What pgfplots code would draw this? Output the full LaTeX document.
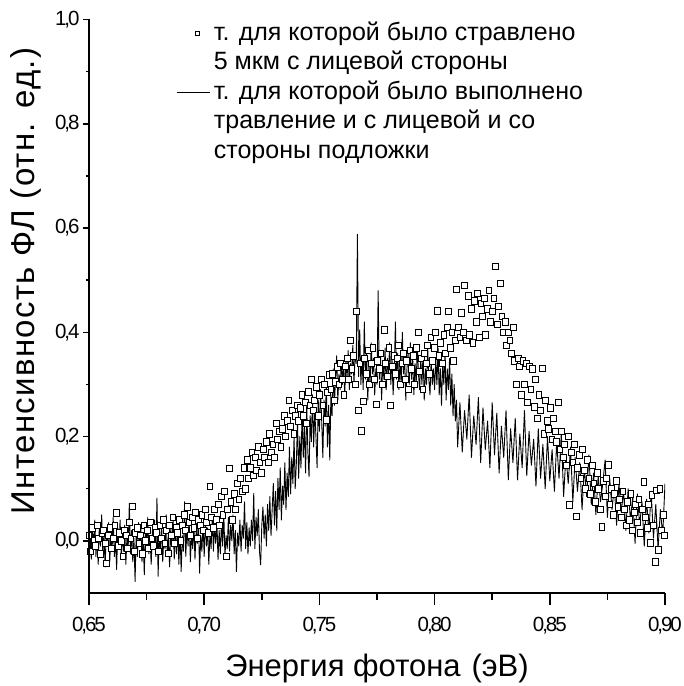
\documentclass[border=0pt]{standalone}
\usepackage{pgfplots}
\usepackage{pgfplotstable}
\pgfplotsset{compat=1.18}
\usepackage{fontspec}
\setmainfont{Liberation Sans}
\newfontfamily\tickfont[LetterSpace=-10]{Liberation Sans}
\newfontfamily\ylabfont[LetterSpace=4]{Liberation Sans}

\pgfplotsset{
  sqlegend/.style={legend image code/.code={%
    \path[draw=none] (0pt,0pt) -- (33pt,0pt);
    \draw[##1, mark size=1.8pt] plot coordinates {(20pt,0pt)};}},
  linelegend/.style={legend image code/.code={\draw[##1] (0pt,0pt) -- (33pt,0pt);}},
  nolegend/.style={legend image code/.code={\path[draw=none] (0pt,0pt) -- (33pt,0pt);}},
  frame/.style={scale only axis, width=576pt, height=573.5pt,
    at={(0pt,0pt)}, anchor=south west,
    xmin=0.65, xmax=0.90, ymin=-0.1, ymax=1.0,
    axis line style={line width=1.5pt, -},
    every tick/.style={black, line width=1.5pt},
    tick align=outside,
    /pgf/number format/assume math mode=true,
    scaled ticks=false},
}

% PL spectrum, front side etched by 5 um (open squares)
\pgfplotstableread[row sep=\\]{
x y\\
0.6500 0.010\\ 0.6507 -0.020\\ 0.6514 0.025\\ 0.6521 0.000\\ 0.6528 -0.010\\ 0.6535 0.030\\ 0.6542 0.005\\ 0.6549 -0.025\\ 0.6556 0.015\\ 0.6563 0.020\\
0.6570 -0.005\\ 0.6577 -0.043\\ 0.6584 0.010\\ 0.6591 0.025\\ 0.6598 -0.015\\ 0.6605 0.005\\ 0.6612 0.030\\ 0.6619 0.054\\ 0.6626 -0.010\\ 0.6633 0.015\\
0.6640 0.000\\ 0.6647 -0.030\\ 0.6654 0.020\\ 0.6661 0.010\\ 0.6668 -0.015\\ 0.6675 0.035\\ 0.6682 0.005\\ 0.6689 0.066\\ 0.6696 -0.020\\ 0.6703 0.015\\
0.6710 0.025\\ 0.6717 -0.005\\ 0.6724 0.010\\ 0.6731 -0.025\\ 0.6738 0.030\\ 0.6745 0.000\\ 0.6752 0.020\\ 0.6759 -0.015\\ 0.6766 0.035\\ 0.6773 0.005\\
0.6780 -0.010\\ 0.6787 0.025\\ 0.6794 0.015\\ 0.6801 -0.020\\ 0.6808 0.030\\ 0.6815 0.005\\ 0.6822 0.040\\ 0.6829 -0.005\\ 0.6836 0.020\\ 0.6843 -0.024\\
0.6850 0.030\\ 0.6857 0.010\\ 0.6864 0.045\\ 0.6871 -0.005\\ 0.6878 0.025\\ 0.6885 0.015\\ 0.6892 0.040\\ 0.6899 0.000\\ 0.6906 0.030\\ 0.6913 0.050\\
0.6920 0.020\\ 0.6927 0.065\\ 0.6934 0.035\\ 0.6941 0.010\\ 0.6948 0.045\\ 0.6955 0.025\\ 0.6962 0.055\\ 0.6969 0.005\\ 0.6976 0.040\\ 0.6983 0.030\\
0.6990 0.050\\ 0.6997 0.020\\ 0.7004 0.060\\ 0.7011 0.035\\ 0.7018 0.015\\ 0.7025 0.104\\ 0.7032 0.045\\ 0.7039 0.025\\ 0.7046 0.060\\ 0.7053 0.040\\
0.7060 0.070\\ 0.7067 0.030\\ 0.7074 0.085\\ 0.7081 0.050\\ 0.7088 0.095\\ 0.7095 -0.030\\ 0.7102 0.060\\ 0.7109 0.139\\ 0.7116 0.075\\ 0.7123 0.040\\
0.7130 0.090\\ 0.7137 0.060\\ 0.7144 0.110\\ 0.7151 0.080\\ 0.7158 0.120\\ 0.7165 0.095\\ 0.7172 0.140\\ 0.7179 0.100\\ 0.7186 0.155\\ 0.7193 0.120\\
0.7200 0.140\\ 0.7207 0.170\\ 0.7214 0.125\\ 0.7221 0.160\\ 0.7228 0.135\\ 0.7235 0.180\\ 0.7242 0.150\\ 0.7249 0.130\\ 0.7256 0.175\\ 0.7263 0.160\\
0.7270 0.190\\ 0.7277 0.150\\ 0.7284 0.205\\ 0.7291 0.170\\ 0.7298 0.185\\ 0.7305 0.160\\ 0.7312 0.225\\ 0.7319 0.195\\ 0.7326 0.210\\ 0.7333 0.180\\
0.7340 0.215\\ 0.7347 0.240\\ 0.7354 0.200\\ 0.7361 0.230\\ 0.7368 0.270\\ 0.7375 0.220\\ 0.7382 0.250\\ 0.7389 0.205\\ 0.7396 0.240\\ 0.7403 0.260\\
0.7410 0.230\\ 0.7417 0.255\\ 0.7424 0.280\\ 0.7431 0.240\\ 0.7438 0.265\\ 0.7445 0.225\\ 0.7452 0.286\\ 0.7459 0.260\\ 0.7466 0.310\\ 0.7473 0.250\\
0.7480 0.270\\ 0.7487 0.295\\ 0.7494 0.240\\ 0.7501 0.280\\ 0.7508 0.310\\ 0.7515 0.260\\ 0.7522 0.300\\ 0.7529 0.232\\ 0.7536 0.285\\ 0.7543 0.318\\
0.7550 0.290\\ 0.7557 0.320\\ 0.7564 0.270\\ 0.7571 0.305\\ 0.7578 0.334\\ 0.7585 0.300\\ 0.7592 0.340\\ 0.7599 0.310\\ 0.7606 0.280\\ 0.7613 0.335\\
0.7620 0.350\\ 0.7627 0.310\\ 0.7634 0.384\\ 0.7641 0.330\\ 0.7648 0.355\\ 0.7655 0.300\\ 0.7662 0.440\\ 0.7669 0.250\\ 0.7676 0.340\\ 0.7683 0.211\\
0.7690 0.267\\ 0.7697 0.350\\ 0.7704 0.320\\ 0.7711 0.365\\ 0.7718 0.300\\ 0.7725 0.340\\ 0.7732 0.370\\ 0.7739 0.310\\ 0.7746 0.262\\ 0.7753 0.345\\
0.7760 0.330\\ 0.7767 0.360\\ 0.7774 0.300\\ 0.7781 0.405\\ 0.7788 0.340\\ 0.7795 0.315\\ 0.7802 0.370\\ 0.7809 0.260\\ 0.7816 0.335\\ 0.7823 0.355\\
0.7830 0.320\\ 0.7837 0.350\\ 0.7844 0.375\\ 0.7851 0.300\\ 0.7858 0.340\\ 0.7865 0.360\\ 0.7872 0.310\\ 0.7879 0.345\\ 0.7886 0.290\\ 0.7893 0.365\\
0.7900 0.330\\ 0.7907 0.355\\ 0.7914 0.300\\ 0.7921 0.370\\ 0.7928 0.400\\ 0.7935 0.325\\ 0.7942 0.350\\ 0.7949 0.290\\ 0.7956 0.360\\ 0.7963 0.340\\
0.7970 0.375\\ 0.7977 0.320\\ 0.7984 0.390\\ 0.7991 0.345\\ 0.7998 0.370\\ 0.8005 0.400\\ 0.8012 0.441\\ 0.8019 0.355\\ 0.8026 0.380\\ 0.8033 0.340\\
0.8040 0.395\\ 0.8047 0.360\\ 0.8054 0.410\\ 0.8061 0.440\\ 0.8068 0.370\\ 0.8075 0.400\\ 0.8082 0.345\\ 0.8089 0.385\\ 0.8096 0.482\\ 0.8103 0.410\\
0.8110 0.390\\ 0.8117 0.437\\ 0.8124 0.400\\ 0.8131 0.490\\ 0.8138 0.385\\ 0.8145 0.470\\ 0.8152 0.395\\ 0.8159 0.445\\ 0.8166 0.380\\ 0.8173 0.460\\
0.8180 0.420\\ 0.8187 0.475\\ 0.8194 0.390\\ 0.8201 0.455\\ 0.8208 0.430\\ 0.8215 0.465\\ 0.8222 0.395\\ 0.8229 0.445\\ 0.8236 0.480\\ 0.8243 0.420\\
0.8250 0.440\\ 0.8257 0.465\\ 0.8264 0.527\\ 0.8271 0.415\\ 0.8278 0.450\\ 0.8285 0.494\\ 0.8292 0.430\\ 0.8299 0.400\\ 0.8306 0.420\\ 0.8313 0.375\\
0.8320 0.400\\ 0.8327 0.385\\ 0.8334 0.360\\ 0.8341 0.410\\ 0.8348 0.345\\ 0.8355 0.300\\ 0.8362 0.350\\ 0.8369 0.335\\ 0.8376 0.280\\ 0.8383 0.345\\
0.8390 0.300\\ 0.8397 0.340\\ 0.8404 0.265\\ 0.8411 0.335\\ 0.8418 0.290\\ 0.8425 0.330\\ 0.8432 0.257\\ 0.8439 0.310\\ 0.8446 0.235\\ 0.8453 0.280\\
0.8460 0.250\\ 0.8467 0.331\\ 0.8474 0.205\\ 0.8481 0.270\\ 0.8488 0.230\\ 0.8495 0.215\\ 0.8502 0.255\\ 0.8509 0.195\\ 0.8516 0.235\\ 0.8523 0.210\\
0.8530 0.190\\ 0.8537 0.266\\ 0.8544 0.175\\ 0.8551 0.210\\ 0.8558 0.160\\ 0.8565 0.185\\ 0.8572 0.145\\ 0.8579 0.200\\ 0.8586 0.069\\ 0.8593 0.170\\
0.8600 0.150\\ 0.8607 0.185\\ 0.8614 0.047\\ 0.8621 0.140\\ 0.8628 0.165\\ 0.8635 0.120\\ 0.8642 0.175\\ 0.8649 0.135\\ 0.8656 0.100\\ 0.8663 0.155\\
0.8670 0.120\\ 0.8677 0.090\\ 0.8684 0.145\\ 0.8691 0.110\\ 0.8698 0.075\\ 0.8705 0.130\\ 0.8712 0.100\\ 0.8719 0.060\\ 0.8726 0.027\\ 0.8733 0.115\\
0.8740 0.085\\ 0.8747 0.120\\ 0.8754 0.146\\ 0.8761 0.070\\ 0.8768 0.100\\ 0.8775 0.050\\ 0.8782 0.090\\ 0.8789 0.115\\ 0.8796 0.065\\ 0.8803 0.080\\
0.8810 0.045\\ 0.8817 0.095\\ 0.8824 0.060\\ 0.8831 0.030\\ 0.8838 0.075\\ 0.8845 0.040\\ 0.8852 0.090\\ 0.8859 0.020\\ 0.8866 0.055\\ 0.8873 0.070\\
0.8880 0.035\\ 0.8887 0.080\\ 0.8894 0.015\\ 0.8901 0.060\\ 0.8908 0.113\\ 0.8915 0.045\\ 0.8922 0.025\\ 0.8929 0.070\\ 0.8936 -0.004\\ 0.8943 0.088\\
0.8950 0.030\\ 0.8957 -0.040\\ 0.8964 0.097\\ 0.8971 -0.017\\ 0.8978 0.100\\ 0.8985 0.020\\ 0.8992 0.050\\ 0.8999 0.010\\
}\frontdata

% PL spectrum, etched from the front and from the substrate side (solid line)
\pgfplotstableread[row sep=\\]{
x y\\
0.6500 -0.060\\ 0.6505 0.010\\ 0.6510 -0.035\\ 0.6515 0.025\\ 0.6520 -0.015\\ 0.6525 0.040\\ 0.6530 -0.030\\ 0.6535 0.005\\ 0.6540 -0.045\\ 0.6545 0.030\\
0.6550 -0.010\\ 0.6555 0.050\\ 0.6560 -0.025\\ 0.6565 0.015\\ 0.6570 -0.050\\ 0.6575 0.020\\ 0.6580 -0.005\\ 0.6585 0.035\\ 0.6590 -0.040\\ 0.6595 0.010\\
0.6600 -0.020\\ 0.6605 0.045\\ 0.6610 -0.030\\ 0.6615 0.000\\ 0.6620 -0.055\\ 0.6625 0.025\\ 0.6630 -0.010\\ 0.6635 0.040\\ 0.6640 -0.035\\ 0.6645 0.015\\
0.6650 -0.020\\ 0.6655 0.030\\ 0.6660 -0.045\\ 0.6665 0.010\\ 0.6670 -0.015\\ 0.6675 0.072\\ 0.6680 -0.025\\ 0.6685 0.020\\ 0.6690 -0.040\\ 0.6695 0.005\\
0.6700 -0.078\\ 0.6705 0.015\\ 0.6710 -0.030\\ 0.6715 0.035\\ 0.6720 -0.010\\ 0.6725 0.025\\ 0.6730 -0.040\\ 0.6735 0.010\\ 0.6740 -0.065\\ 0.6745 0.030\\
0.6750 -0.015\\ 0.6755 0.045\\ 0.6760 -0.025\\ 0.6765 0.005\\ 0.6770 -0.045\\ 0.6775 0.020\\ 0.6780 -0.010\\ 0.6785 0.040\\ 0.6790 -0.030\\ 0.6795 0.082\\
0.6800 -0.068\\ 0.6805 0.020\\ 0.6810 -0.020\\ 0.6815 0.035\\ 0.6820 -0.040\\ 0.6825 0.010\\ 0.6830 -0.015\\ 0.6835 0.050\\ 0.6840 -0.030\\ 0.6845 0.005\\
0.6850 -0.050\\ 0.6855 0.025\\ 0.6860 -0.010\\ 0.6865 0.040\\ 0.6870 -0.035\\ 0.6875 0.015\\ 0.6880 -0.025\\ 0.6885 0.030\\ 0.6890 -0.045\\ 0.6895 0.020\\
0.6900 -0.059\\ 0.6905 0.010\\ 0.6910 -0.020\\ 0.6915 0.075\\ 0.6920 -0.030\\ 0.6925 0.025\\ 0.6930 -0.010\\ 0.6935 0.040\\ 0.6940 -0.040\\ 0.6945 0.015\\
0.6950 -0.015\\ 0.6955 0.030\\ 0.6960 -0.035\\ 0.6965 0.020\\ 0.6970 -0.005\\ 0.6975 0.045\\ 0.6980 -0.062\\ 0.6985 0.010\\ 0.6990 -0.020\\ 0.6995 0.035\\
0.7000 -0.030\\ 0.7005 0.040\\ 0.7010 -0.010\\ 0.7015 0.025\\ 0.7020 -0.045\\ 0.7025 0.015\\ 0.7030 -0.015\\ 0.7035 0.050\\ 0.7040 -0.020\\ 0.7045 0.030\\
0.7050 -0.005\\ 0.7055 0.040\\ 0.7060 -0.036\\ 0.7065 0.020\\ 0.7070 -0.025\\ 0.7075 0.035\\ 0.7080 -0.010\\ 0.7085 0.055\\ 0.7090 -0.030\\ 0.7095 0.010\\
0.7100 -0.015\\ 0.7105 0.045\\ 0.7110 -0.020\\ 0.7115 0.030\\ 0.7120 0.000\\ 0.7125 0.050\\ 0.7130 -0.025\\ 0.7135 0.020\\ 0.7140 -0.059\\ 0.7145 0.015\\
0.7150 -0.010\\ 0.7155 0.040\\ 0.7160 -0.020\\ 0.7165 0.030\\ 0.7170 0.005\\ 0.7175 0.075\\ 0.7180 -0.015\\ 0.7185 0.035\\ 0.7190 -0.025\\ 0.7195 0.025\\
0.7200 -0.010\\ 0.7205 0.040\\ 0.7210 0.000\\ 0.7215 0.091\\ 0.7220 -0.015\\ 0.7225 0.045\\ 0.7230 0.010\\ 0.7235 0.060\\ 0.7240 -0.020\\ 0.7245 -0.046\\
0.7250 0.030\\ 0.7255 0.065\\ 0.7260 0.005\\ 0.7265 0.050\\ 0.7270 -0.010\\ 0.7275 0.070\\ 0.7280 0.020\\ 0.7285 0.085\\ 0.7290 0.010\\ 0.7295 0.060\\
0.7300 0.110\\ 0.7305 0.030\\ 0.7310 0.095\\ 0.7315 0.020\\ 0.7320 0.120\\ 0.7325 0.060\\ 0.7330 0.140\\ 0.7335 0.040\\ 0.7340 0.105\\ 0.7345 0.070\\
0.7350 0.150\\ 0.7355 0.060\\ 0.7360 0.130\\ 0.7365 0.085\\ 0.7370 0.180\\ 0.7375 0.090\\ 0.7380 0.160\\ 0.7385 0.110\\ 0.7390 0.200\\ 0.7395 0.100\\
0.7400 0.150\\ 0.7405 0.230\\ 0.7410 0.120\\ 0.7415 0.200\\ 0.7420 0.140\\ 0.7425 0.250\\ 0.7430 0.160\\ 0.7435 0.220\\ 0.7440 0.130\\ 0.7445 0.260\\
0.7450 0.170\\ 0.7455 0.123\\ 0.7460 0.240\\ 0.7465 0.190\\ 0.7470 0.280\\ 0.7475 0.180\\ 0.7480 0.250\\ 0.7485 0.200\\ 0.7490 0.140\\ 0.7495 0.270\\
0.7500 0.210\\ 0.7505 0.290\\ 0.7510 0.230\\ 0.7515 0.160\\ 0.7520 0.270\\ 0.7525 0.220\\ 0.7530 0.300\\ 0.7535 0.180\\ 0.7540 0.260\\ 0.7545 0.155\\
0.7550 0.280\\ 0.7555 0.240\\ 0.7560 0.330\\ 0.7565 0.260\\ 0.7570 0.310\\ 0.7575 0.355\\ 0.7580 0.270\\ 0.7585 0.320\\ 0.7590 0.290\\ 0.7595 0.345\\
0.7600 0.300\\ 0.7605 0.340\\ 0.7610 0.280\\ 0.7615 0.350\\ 0.7620 0.310\\ 0.7625 0.365\\ 0.7630 0.290\\ 0.7635 0.340\\ 0.7640 0.320\\ 0.7645 0.375\\
0.7650 0.300\\ 0.7655 0.360\\ 0.7660 0.340\\ 0.7665 0.588\\ 0.7670 0.315\\ 0.7675 0.405\\ 0.7680 0.300\\ 0.7685 0.355\\ 0.7690 0.290\\ 0.7695 0.420\\
0.7700 0.310\\ 0.7705 0.360\\ 0.7710 0.270\\ 0.7715 0.340\\ 0.7720 0.300\\ 0.7725 0.380\\ 0.7730 0.320\\ 0.7735 0.350\\ 0.7740 0.280\\ 0.7745 0.330\\
0.7750 0.300\\ 0.7755 0.480\\ 0.7760 0.310\\ 0.7765 0.360\\ 0.7770 0.270\\ 0.7775 0.345\\ 0.7780 0.310\\ 0.7785 0.370\\ 0.7790 0.290\\ 0.7795 0.350\\
0.7800 0.320\\ 0.7805 0.380\\ 0.7810 0.300\\ 0.7815 0.350\\ 0.7820 0.280\\ 0.7825 0.330\\ 0.7830 0.420\\ 0.7835 0.310\\ 0.7840 0.360\\ 0.7845 0.290\\
0.7850 0.345\\ 0.7855 0.300\\ 0.7860 0.400\\ 0.7865 0.320\\ 0.7870 0.350\\ 0.7875 0.270\\ 0.7880 0.330\\ 0.7885 0.360\\ 0.7890 0.300\\ 0.7895 0.380\\
0.7900 0.310\\ 0.7905 0.350\\ 0.7910 0.280\\ 0.7915 0.340\\ 0.7920 0.300\\ 0.7925 0.375\\ 0.7930 0.320\\ 0.7935 0.290\\ 0.7940 0.350\\ 0.7945 0.300\\
0.7950 0.360\\ 0.7955 0.270\\ 0.7960 0.330\\ 0.7965 0.300\\ 0.7970 0.370\\ 0.7975 0.310\\ 0.7980 0.280\\ 0.7985 0.345\\ 0.7990 0.300\\ 0.7995 0.330\\
0.8000 0.290\\ 0.8005 0.350\\ 0.8010 0.300\\ 0.8015 0.370\\ 0.8020 0.280\\ 0.8025 0.330\\ 0.8030 0.260\\ 0.8035 0.340\\ 0.8040 0.300\\ 0.8045 0.360\\
0.8050 0.270\\ 0.8055 0.330\\ 0.8060 0.290\\ 0.8065 0.350\\ 0.8070 0.260\\ 0.8075 0.320\\ 0.8080 0.240\\ 0.8085 0.300\\ 0.8090 0.230\\ 0.8095 0.270\\
0.810 0.180\\ 0.811 0.265\\ 0.812 0.170\\ 0.813 0.250\\ 0.814 0.195\\ 0.815 0.280\\ 0.816 0.160\\ 0.817 0.240\\ 0.818 0.185\\ 0.819 0.275\\
0.820 0.150\\ 0.821 0.255\\ 0.822 0.175\\ 0.823 0.230\\ 0.824 0.140\\ 0.825 0.265\\ 0.826 0.165\\ 0.827 0.245\\ 0.828 0.130\\ 0.829 0.220\\
0.830 0.160\\ 0.831 0.250\\ 0.832 0.117\\ 0.833 0.215\\ 0.834 0.150\\ 0.835 0.235\\ 0.836 0.117\\ 0.837 0.205\\ 0.838 0.140\\ 0.839 0.250\\
0.840 0.125\\ 0.841 0.210\\ 0.842 0.145\\ 0.843 0.195\\ 0.844 0.105\\ 0.845 0.215\\ 0.846 0.120\\ 0.847 0.185\\ 0.848 0.100\\ 0.849 0.200\\
0.850 0.115\\ 0.851 0.175\\ 0.852 0.095\\ 0.853 0.190\\ 0.854 0.120\\ 0.855 0.207\\ 0.856 0.085\\ 0.857 0.165\\ 0.858 0.110\\ 0.859 0.180\\
0.860 0.075\\ 0.861 0.160\\ 0.862 0.095\\ 0.863 0.150\\ 0.864 0.060\\ 0.865 0.140\\ 0.866 0.085\\ 0.867 0.165\\ 0.868 0.070\\ 0.869 0.130\\
0.870 0.050\\ 0.871 0.125\\ 0.872 0.075\\ 0.873 0.110\\ 0.874 0.155\\ 0.875 0.045\\ 0.876 0.120\\ 0.877 0.060\\ 0.878 0.105\\ 0.879 0.030\\
0.880 0.110\\ 0.881 0.055\\ 0.882 0.095\\ 0.883 0.020\\ 0.884 0.100\\ 0.885 0.040\\ 0.886 0.085\\ 0.887 -0.005\\ 0.888 0.090\\ 0.889 0.030\\
0.890 0.075\\ 0.891 -0.010\\ 0.892 0.080\\ 0.893 0.015\\ 0.894 0.095\\ 0.895 0.005\\ 0.896 0.070\\ 0.897 -0.015\\ 0.898 0.060\\ 0.899 0.010\\
0.900 0.110\\
}\bothdata

\begin{document}
\begin{tikzpicture}
\useasboundingbox (-89pt,-93pt) rectangle (595pt,593pt);
% data, legend and the energy axis
\begin{axis}[
  frame,
  axis x line*=bottom, axis y line=none,
  major tick length=12pt, minor tick length=7pt,
  xtick={0.65,0.70,0.75,0.80,0.85,0.90},
  minor x tick num=1,
  xticklabel style={font=\tickfont\fontsize{20.5}{24}\selectfont, yshift=-9pt,
    /pgf/number format/.cd, fixed, fixed zerofill, precision=2, use comma},
  xlabel={Энергия фотона\hspace{0.35em}(эВ)},
  xlabel style={font=\fontsize{31}{36}\selectfont,
    at={(axis description cs:0.5,-0.1308)}, anchor=center},
  legend cell align=left,
  legend style={at={(axis description cs:0.1528,0.9956)}, anchor=north west,
    draw=none, fill=none, inner sep=0pt, outer sep=0pt,
    row sep=6pt, column sep=3pt,
    font=\fontsize{25}{29.5}\selectfont,
    nodes={inner sep=0pt, text height=18pt, text depth=5.5pt}},
]
\addplot[only marks, mark=square*, mark size=2.9pt,
  mark options={fill=white, draw=black, line width=0.8pt, yscale=1.1}, sqlegend]
  table[x=x, y=y] {\frontdata};
\addlegendentry{т. для которой было стравлено}
\addlegendimage{nolegend}
\addlegendentry{5 мкм с лицевой стороны}

\addplot[black, line width=0.9pt, line join=round, no marks, linelegend]
  table[x=x, y=y] {\bothdata};
\addlegendentry{т. для которой было выполнено}
\addlegendimage{nolegend}
\addlegendentry{травление и с лицевой и со}
\addlegendimage{nolegend}
\addlegendentry{стороны подложки}
\end{axis}
% intensity axis
\begin{axis}[
  frame,
  axis x line=none, axis y line*=left,
  major tick length=6pt, minor tick length=3pt,
  ytick={0,0.2,0.4,0.6,0.8,1.0},
  minor y tick num=1,
  yticklabel style={font=\tickfont\fontsize{20.5}{24}\selectfont,
    /pgf/number format/.cd, fixed, fixed zerofill, precision=1, use comma},
  ylabel={Интенсивность ФЛ (отн. ед.)},
  ylabel style={font=\ylabfont\fontsize{33}{38}\selectfont,
    at={(axis description cs:-0.1094,0.544)}, anchor=center},
]
\end{axis}
\end{tikzpicture}
\end{document}
